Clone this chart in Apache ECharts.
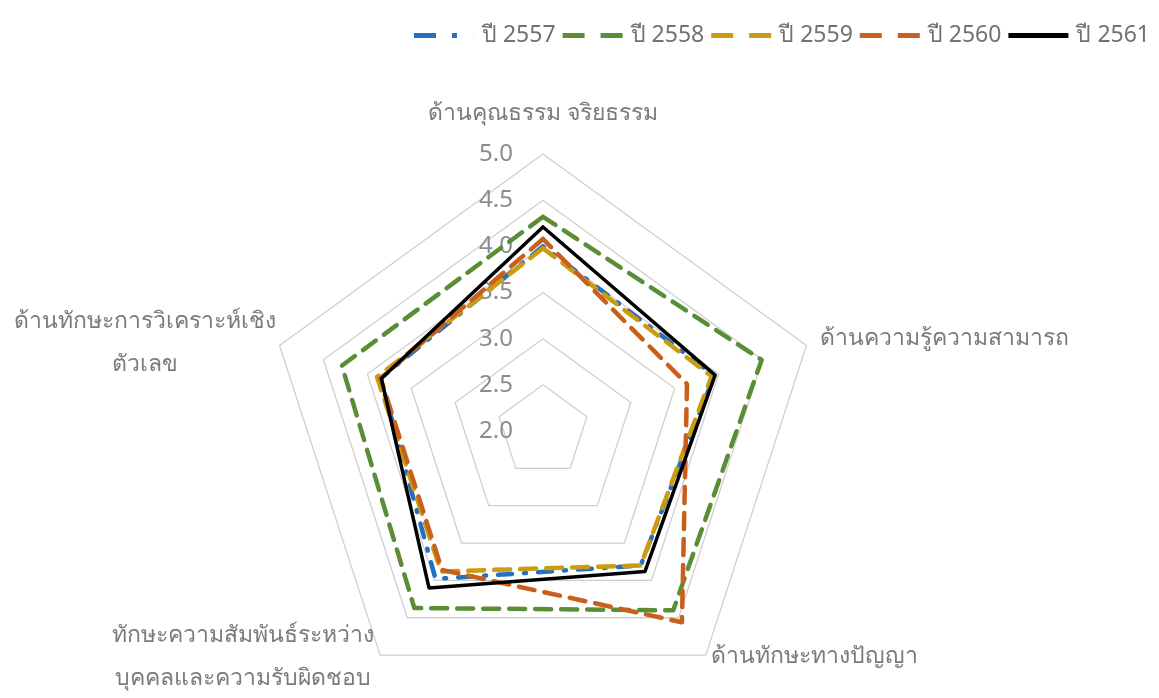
<!DOCTYPE html>
<html>
<head>
<meta charset="utf-8">
<script src="https://cdn.jsdelivr.net/npm/echarts@6/dist/echarts.min.js"></script>
<style>
  html, body { margin: 0; padding: 0; background: #fff; }
  #chart { width: 1159px; height: 698px; }
</style>
</head>
<body>
<div id="chart"></div>
<script>
// indicators in the reference's clockwise order, starting at the top
const indicatorNames = [
  'ด้านคุณธรรม จริยธรรม',
  'ด้านความรู้ความสามารถ',
  'ด้านทักษะทางปัญญา',
  'ทักษะความสัมพันธ์ระหว่าง\nบุคคลและความรับผิดชอบ',
  'ด้านทักษะการวิเคราะห์เชิง\nตัวเลข'
]
const AXIS_MIN = 2
const AXIS_MAX = 5

const years = ['ปี 2557', 'ปี 2558', 'ปี 2559', 'ปี 2560', 'ปี 2561']
const values2557 = [4.0, 3.95, 3.80, 3.98, 3.85]
const values2558 = [4.32, 4.49, 4.40, 4.37, 4.29]
const values2559 = [3.98, 3.92, 3.80, 3.88, 3.89]
const values2560 = [4.08, 3.64, 4.56, 3.86, 3.85]
const values2561 = [4.21, 3.96, 3.88, 4.10, 3.84]
const allValues = [values2557, values2558, values2559, values2560, values2561]

const colors = ['#2470C0', '#5A8E36', '#CC9C10', '#C95F1C', '#000000']
const lineTypes = [[14, 12, 2, 12], [16, 10], [16, 10], [16, 10], 'solid']

// legend keys drawn as short dashed strokes
const legendIcons = [
  'path://M0,0H22V5H0Z M38,0H43V5H38Z M59.9,0H60V5H59.9Z',
  'path://M0,0H22V5H0Z M38,0H60V5H38Z',
  'path://M0,0H22V5H0Z M38,0H60V5H38Z',
  'path://M0,0H22V5H0Z M38,0H60V5H38Z',
  'path://M0,0H60V5H0Z'
]

// echarts lays radar axes out counter-clockwise
const drawOrder = [0, 4, 3, 2, 1]

const FONT = "'Noto Sans', 'DejaVu Sans', sans-serif"
const NAME_COLOR = '#7b7b7b'

// rich style key for each name (same order as indicatorNames)
const nameStyles = ['t', 'r', 'br', 'bl', 'l']
const nameStyle = (extra) => Object.assign({
  fontSize: 23, lineHeight: 43, color: NAME_COLOR, fontFamily: FONT
}, extra)

const chart = echarts.init(document.getElementById('chart'))

const option = {
  animation: false,
  textStyle: { fontFamily: FONT },
  legend: {
    top: 19,
    right: 4,
    itemWidth: 60,
    itemHeight: 5,
    itemGap: 7,
    itemStyle: { borderWidth: 0 },
    textStyle: { fontSize: 23, color: '#727272', fontFamily: FONT, padding: [0, 0, 0, 3] },
    data: years.map((y, i) => ({ name: y, icon: legendIcons[i] }))
  },
  radar: {
    center: ['46.85%', '61.75%'],
    radius: 277,
    startAngle: 90,
    shape: 'polygon',
    splitNumber: 6,
    axisName: {
      color: NAME_COLOR,
      fontSize: 23,
      fontFamily: FONT,
      formatter: (name) => {
        const key = nameStyles[indicatorNames.indexOf(name)]
        return name.split('\n').map((s) => '{' + key + '|' + s + '}').join('\n')
      },
      rich: {
        t: nameStyle({ padding: [0, 0, 17, 0] }),
        r: nameStyle({ padding: [0, 0, 12, 12] }),
        br: nameStyle({ padding: [0, 0, 0, 4] }),
        bl: nameStyle({ width: 266, align: 'center', padding: [0, 3, 0, 0] }),
        l: nameStyle({ width: 266, align: 'center', padding: [0, 0, 4, 0] })
      }
    },
    nameGap: 2,
    axisLine: { show: false },
    axisTick: { show: false },
    splitArea: { show: false },
    splitLine: { lineStyle: { color: '#cfcfcf', width: 1.3 } },
    axisLabel: { show: false },
    indicator: drawOrder.map((k) => ({
      name: indicatorNames[k],
      min: AXIS_MIN,
      max: AXIS_MAX,
      axisLabel: k === 0 ? {
        show: true,
        color: '#8c8c8c',
        fontSize: 24,
        fontFamily: FONT,
        margin: 30,
        formatter: (v) => v.toFixed(1)
      } : { show: false }
    }))
  },
  series: [{
    type: 'radar',
    symbol: 'none',
    data: years.map((year, i) => ({
      name: year,
      value: drawOrder.map((k) => allValues[i][k]),
      lineStyle: {
        color: colors[i],
        width: i === 4 ? 3.5 : 4.5,
        type: lineTypes[i],
        cap: 'round'
      },
      itemStyle: { color: colors[i] }
    }))
  }]
}

chart.setOption(option)
</script>
</body>
</html>
